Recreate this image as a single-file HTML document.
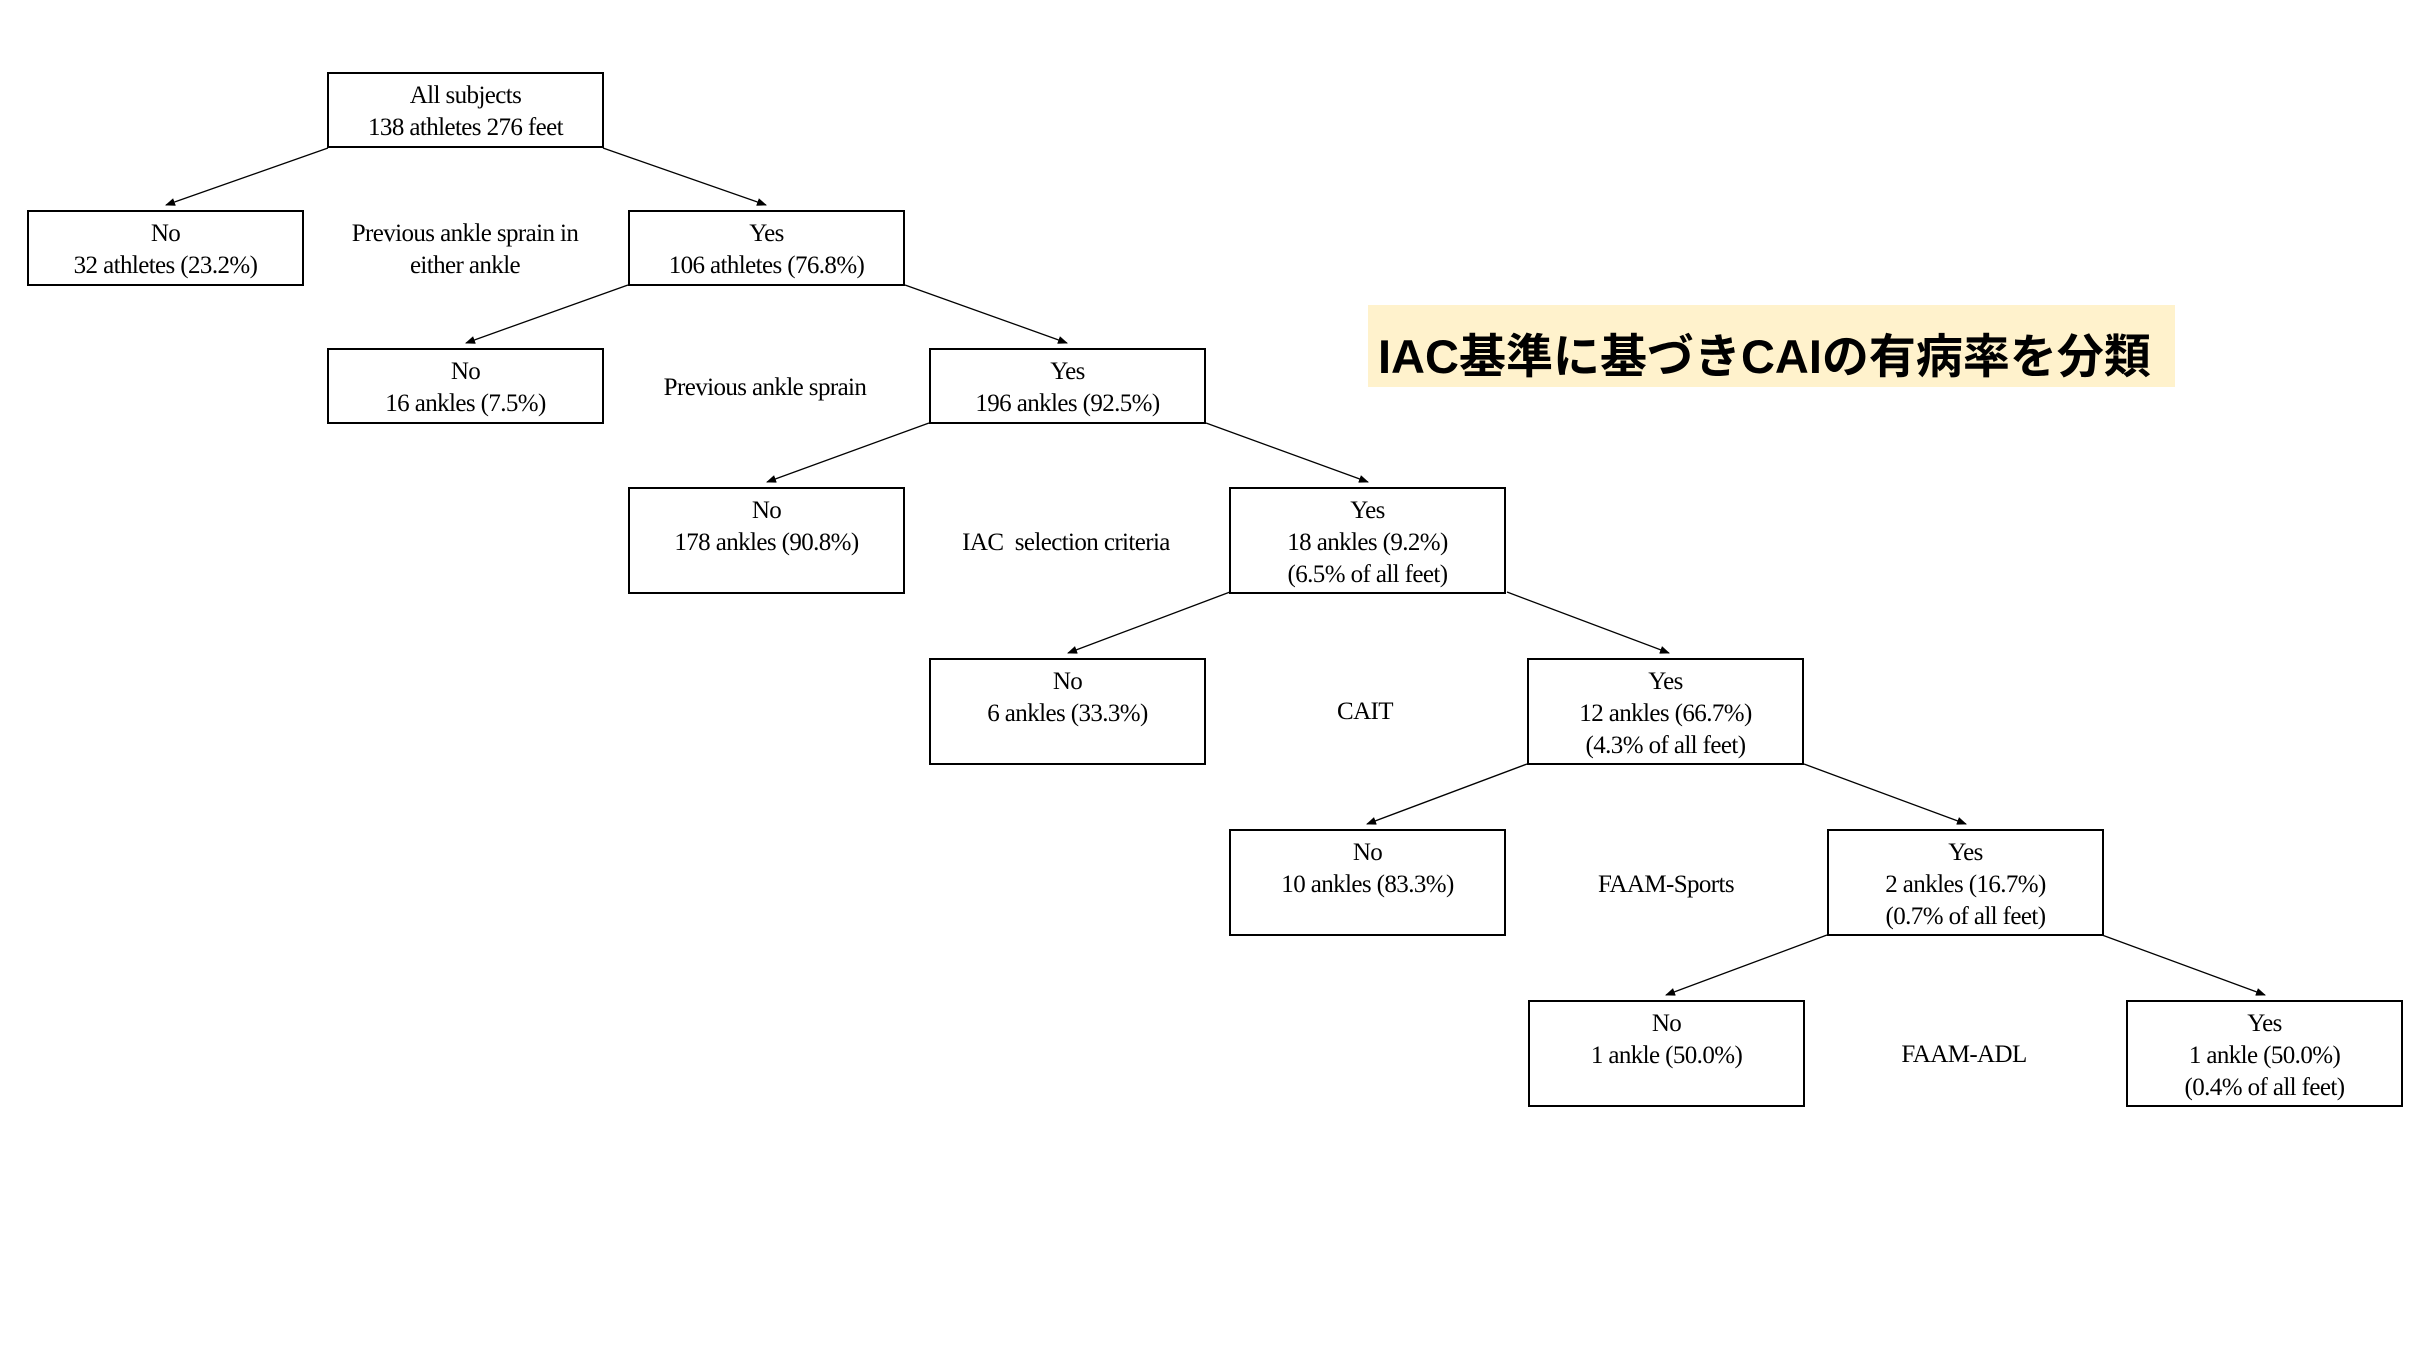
<!DOCTYPE html>
<html><head><meta charset="utf-8"><style>
html,body{margin:0;padding:0;background:#fff;}
body{width:2419px;height:1361px;position:relative;overflow:hidden;font-family:"Liberation Serif","Times New Roman","DejaVu Serif",serif;}
.b{position:absolute;width:277px;border:2px solid #000;box-sizing:border-box;text-align:center;font-size:25px;line-height:32px;padding-top:6px;color:#000;letter-spacing:-0.6px;}
.h2{height:76px;}.h3{height:107px;}
.l{position:absolute;width:300px;text-align:center;font-size:25px;line-height:32px;letter-spacing:-0.6px;}
.t{position:absolute;left:1368px;top:305px;width:807px;height:82px;background:#fff2cc;font-family:"Liberation Sans","Noto Sans CJK JP",sans-serif;font-weight:bold;font-size:47px;line-height:60px;padding-top:22px;padding-left:10px;box-sizing:border-box;}
svg{position:absolute;left:0;top:0;}
</style></head><body>
<svg width="2419" height="1361">
<defs><marker id="a" markerWidth="10" markerHeight="8" refX="9" refY="4" orient="auto" markerUnits="userSpaceOnUse"><path d="M0,0 L10,4 L0,8 Z" fill="#000"/></marker></defs>
<g stroke="#000" stroke-width="1.3" marker-end="url(#a)">
<line x1="328" y1="148" x2="166" y2="205"/>
<line x1="603" y1="148" x2="766" y2="205"/>
<line x1="628" y1="285" x2="466" y2="343"/>
<line x1="905" y1="285" x2="1067" y2="343"/>
<line x1="929" y1="423" x2="767" y2="482"/>
<line x1="1206" y1="423" x2="1368" y2="482"/>
<line x1="1230" y1="592" x2="1068" y2="653"/>
<line x1="1507" y1="592" x2="1669" y2="653"/>
<line x1="1527" y1="764" x2="1367" y2="824"/>
<line x1="1804" y1="764" x2="1966" y2="824"/>
<line x1="1827" y1="935" x2="1666" y2="995"/>
<line x1="2102" y1="935" x2="2265" y2="995"/>
</g></svg>
<div class="b h2" style="left:327px;top:72px">All subjects<br>138 athletes 276 feet</div>
<div class="b h2" style="left:27px;top:210px">No<br>32 athletes (23.2%)</div>
<div class="l" style="left:315px;top:218px">Previous ankle sprain in<br>either ankle</div>
<div class="b h2" style="left:628px;top:210px">Yes<br>106 athletes (76.8%)</div>
<div class="b h2" style="left:327px;top:348px">No<br>16 ankles (7.5%)</div>
<div class="l" style="left:615px;top:372px">Previous ankle sprain</div>
<div class="b h2" style="left:929px;top:348px">Yes<br>196 ankles (92.5%)</div>
<div class="b h3" style="left:628px;top:487px">No<br>178 ankles (90.8%)</div>
<div class="l" style="left:916px;top:527px">IAC&nbsp; selection criteria</div>
<div class="b h3" style="left:1229px;top:487px">Yes<br>18 ankles (9.2%)<br>(6.5% of all feet)</div>
<div class="b h3" style="left:929px;top:658px">No<br>6 ankles (33.3%)</div>
<div class="l" style="left:1215px;top:696px">CAIT</div>
<div class="b h3" style="left:1527px;top:658px">Yes<br>12 ankles (66.7%)<br>(4.3% of all feet)</div>
<div class="b h3" style="left:1229px;top:829px">No<br>10 ankles (83.3%)</div>
<div class="l" style="left:1516px;top:869px">FAAM-Sports</div>
<div class="b h3" style="left:1827px;top:829px">Yes<br>2 ankles (16.7%)<br>(0.7% of all feet)</div>
<div class="b h3" style="left:1528px;top:1000px">No<br>1 ankle (50.0%)</div>
<div class="l" style="left:1814px;top:1039px">FAAM-ADL</div>
<div class="b h3" style="left:2126px;top:1000px">Yes<br>1 ankle (50.0%)<br>(0.4% of all feet)</div>
<div class="t">IAC基準に基づきCAIの有病率を分類</div>
</body></html>
